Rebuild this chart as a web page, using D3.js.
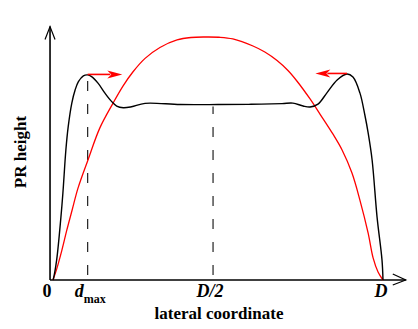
<!DOCTYPE html>
<html>
<head>
<meta charset="utf-8">
<script src="https://cdn.jsdelivr.net/npm/d3@7"></script>
<style>
  html, body { margin: 0; padding: 0; background: #fff; }
  svg { display: block; }
  text { font-family: "Liberation Serif", "Times New Roman", serif; font-weight: bold; fill: #000; }
</style>
</head>
<body>
<svg id="chart" width="418" height="329"></svg>
<script>
// ---- data (lateral coordinate 0..100 = 0..D, height in arbitrary units) ----
const blackX = [0, 0.1, 1.1, 2.4, 3.0, 3.9, 4.6, 5.7, 6.7, 7.7, 9.2, 10.5, 11.7, 13.7, 15.8, 17.8, 19.3, 21.3, 23.8, 27.9, 38.5, 50, 60, 69.4, 72.7, 75.8, 77.9, 80.3, 83.0, 86.1, 89.1, 90.9, 93.0, 94.5, 95.5, 96.7, 98.2, 99.7, 100];
const blackY = [0, 0.4, 8.2, 25.9, 35.8, 53.5, 63.0, 72.8, 78.2, 81.6, 84.0, 84.4, 83.7, 80.9, 76.8, 73.4, 71.6, 70.9, 71.3, 72.7, 72.2, 72.2, 72.3, 72.6, 72.8, 71.6, 71.2, 72.4, 77.0, 82.3, 84.8, 83.5, 77.0, 67.9, 60.5, 49.4, 25.9, 8.2, 0];

const redX = [0, 1.2, 2.7, 4.2, 5.8, 7.6, 10.6, 14.2, 18.2, 21.2, 24.2, 27.9, 32.4, 37.6, 41.8, 46.1, 50.3, 54.5, 60.6, 64.2, 67.9, 71.2, 73.9, 77.9, 80.9, 84.8, 87.6, 90.6, 93.0, 95.5, 97.0, 98.5, 100];
const redY = [0, 4.9, 12.3, 20.6, 28.8, 37.9, 49.4, 62.6, 72.8, 79.8, 85.6, 91.2, 95.7, 98.8, 99.8, 100, 99.9, 99.2, 96.3, 93.8, 90.3, 86.2, 81.9, 74.5, 68.3, 60.1, 53.5, 44.0, 32.9, 19.3, 9.1, 3.3, 0];

// dashed markers: position of maximum and of the centre
const dashX = [10.5, 48.5];
const dashTop = [84.4, 71.4];

// arrows showing motion of the maxima: [fromX, toX] at height
const arrowFrom = [10.5, 89.1];
const arrowTo = [21.0, 79.5];
const arrowY = [84.6, 85.0];

// tick labels on lateral axis
const tickValues = [0, 10.5, 48.5, 100];
const tickLabels = ["0", "d|max", "D/2", "D"];

const xTitle = "lateral coordinate";
const yTitle = "PR height";

// axis extents (data units)
const xAxisExtent = [-0.9, 106.9];
const yAxisExtent = [0, 104.3];

// ---- drawing ----
const svg = d3.select("#chart");
const x = d3.scaleLinear().domain([0, 100]).range([53, 383]);
const y = d3.scaleLinear().domain([0, 100]).range([280, 37]);

svg.append("rect").attr("width", 418).attr("height", 329).attr("fill", "#fff");

// axes
const axisX0 = x(xAxisExtent[0]);
const axisY0 = y(0);
const xEnd = x(xAxisExtent[1]);
const yEnd = y(yAxisExtent[1]);

const axisG = svg.append("g").attr("stroke", "#000").attr("fill", "none").attr("stroke-width", 1.6);
axisG.append("line").attr("x1", axisX0).attr("y1", axisY0).attr("x2", xEnd).attr("y2", axisY0);
axisG.append("line").attr("x1", axisX0).attr("y1", axisY0).attr("x2", axisX0).attr("y2", yEnd);
// open arrowheads
axisG.append("path").attr("stroke-width", 1.2)
  .attr("d", `M${xEnd - 13},${axisY0 - 6} L${xEnd},${axisY0} L${xEnd - 13},${axisY0 + 5}`);
axisG.append("path").attr("stroke-width", 1.2)
  .attr("d", `M${axisX0 - 5},${yEnd + 13} L${axisX0},${yEnd} L${axisX0 + 5},${yEnd + 13}`);

// dashed lines
svg.append("g").selectAll("line").data(dashX).join("line")
  .attr("x1", d => x(d)).attr("x2", d => x(d))
  .attr("y1", y(0)).attr("y2", (d, i) => y(dashTop[i]))
  .attr("stroke", "#222").attr("stroke-width", 1.2)
  .attr("stroke-dasharray", "10,13").attr("stroke-dashoffset", -5);

const line = d3.line().curve(d3.curveCatmullRom.alpha(0.5));

// red curve
svg.append("path")
  .attr("d", line(redX.map((v, i) => [x(v), y(redY[i])])))
  .attr("fill", "none").attr("stroke", "#ff0000").attr("stroke-width", 1.3);

// black curve
svg.append("path")
  .attr("d", line(blackX.map((v, i) => [x(v), y(blackY[i])])))
  .attr("fill", "none").attr("stroke", "#000").attr("stroke-width", 1.4);

// arrows
arrowFrom.forEach((f, i) => {
  const x1 = x(f), x2 = x(arrowTo[i]), yy = y(arrowY[i]);
  const dir = Math.sign(x2 - x1);
  const headLen = 15, hw = 4;
  const g = svg.append("g");
  g.append("line").attr("x1", x1).attr("y1", yy).attr("x2", x2 - dir * headLen + dir * 3).attr("y2", yy)
    .attr("stroke", "#ff0000").attr("stroke-width", 1.6);
  g.append("path")
    .attr("d", `M${x2},${yy} L${x2 - dir * headLen},${yy - hw} L${x2 - dir * (headLen - 4)},${yy} L${x2 - dir * headLen},${yy + hw} Z`)
    .attr("fill", "#ff0000");
});

// tick labels
const labelG = svg.append("g");
const tickDx = [-6, -13, -3, -2];
tickValues.forEach((v, i) => {
  const lab = tickLabels[i];
  const t = labelG.append("text").attr("y", 297).attr("font-size", 18);
  if (lab.includes("|")) {
    const [a, b] = lab.split("|");
    t.attr("x", x(v) + tickDx[i]).attr("text-anchor", "start");
    t.append("tspan").attr("font-style", "italic").text(a);
    t.append("tspan").attr("font-size", 12).attr("dy", 6).text(b);
  } else {
    t.attr("x", x(v) + tickDx[i]).attr("text-anchor", "middle")
      .attr("font-style", lab === "0" ? "normal" : "italic").text(lab);
  }
});

// titles
svg.append("text").attr("x", 219).attr("y", 319).attr("text-anchor", "middle")
  .attr("font-size", 17).text(xTitle);
svg.append("text").attr("transform", "translate(26,152) rotate(-90)").attr("text-anchor", "middle")
  .attr("font-size", 17).text(yTitle);
</script>
</body>
</html>
